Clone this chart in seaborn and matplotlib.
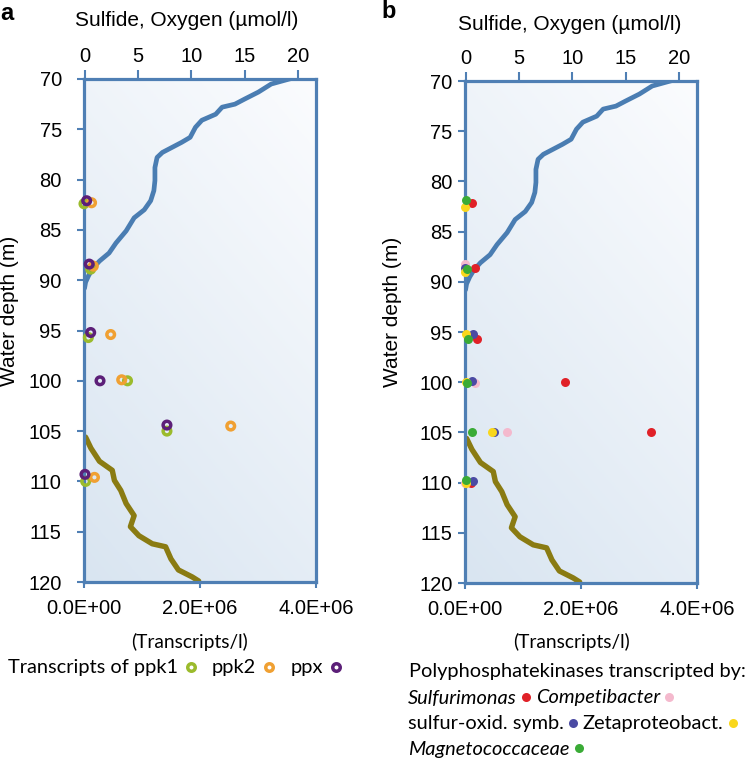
import numpy as np
import pandas as pd
import matplotlib
matplotlib.use("Agg")
import matplotlib.pyplot as plt
import seaborn as sns
from matplotlib.lines import Line2D
from matplotlib.colors import LinearSegmentedColormap

# ---------------- data ----------------
depth_ticks = [70, 75, 80, 85, 90, 95, 100, 105, 110, 115, 120]
conc_ticks = [0, 5, 10, 15, 20]
transcript_ticks = [0, 2e6, 4e6]
transcript_labels = ["0.0E+00", "2.0E+06", "4.0E+06"]

# oxygen profile (umol/l) vs depth (m)
o2_depth = [69.9, 70.0, 70.5, 71.3, 72.0, 72.5, 72.8, 73.5, 74.1, 74.8, 75.8, 76.3, 76.8,
            77.3, 77.8, 78.8, 80.1, 81.1, 82.1, 83.0, 83.8, 85.1, 86.3, 87.3, 88.1,
            88.8, 89.5, 90.2, 90.8]
o2 = [19.6, 19.2, 17.5, 16.3, 15.0, 14.1, 12.9, 12.3, 11.0, 10.4, 9.9, 9.1, 8.2,
      7.3, 6.8, 6.6, 6.6, 6.5, 6.2, 5.6, 4.65, 3.9, 2.95, 2.3, 1.4,
      0.8, 0.4, 0.1, 0.0]

# sulfide profile (umol/l) vs depth (m)
h2s_depth = [105.6, 106.7, 108.0, 108.9, 109.9, 110.9, 112.2, 113.4, 114.5, 115.4,
             116.2, 116.5, 117.7, 118.8, 119.5, 119.9]
h2s = [0.1, 0.6, 1.4, 2.6, 2.8, 3.4, 3.9, 4.65, 4.3, 5.1,
       6.35, 7.6, 8.1, 8.8, 10.1, 10.7]

# panel a: transcripts/l
ppk1_depth = [82.4, 88.9, 95.7, 100.0, 105.0, 110.0]
ppk1 = [0.0, 1.15e5, 7.5e4, 7.5e5, 1.43e6, 2.9e4]
ppk2_depth = [82.3, 88.6, 95.4, 99.9, 104.5, 109.6]
ppk2 = [1.3e5, 1.6e5, 4.6e5, 6.5e5, 2.53e6, 1.8e5]
ppx_depth = [82.1, 88.4, 95.2, 100.0, 104.4, 109.3]
ppx = [4.6e4, 9.0e4, 1.15e5, 2.76e5, 1.43e6, 1.7e4]

# panel b: polyphosphate kinase transcripts by taxon
sulfurimonas_depth = [82.2, 88.6, 95.7, 100.0, 105.0, 110.05]
sulfurimonas = [1.2e5, 1.7e5, 2.0e5, 1.72e6, 3.2e6, 1.0e5]
competibacter_depth = [88.2, 100.1, 105.0, 110.05]
competibacter = [0.0, 1.7e5, 7.2e5, 0.0]
symb_depth = [88.6, 95.2, 99.85, 105.0, 109.8]
symb = [0.0, 1.3e5, 1.27e5, 5.0e5, 1.3e5]
zeta_depth = [82.5, 89.0, 95.2, 100.0, 105.0, 110.0]
zeta = [0.0, 0.0, 1.0e4, 1.0e4, 4.6e5, 2.0e4]
magneto_depth = [81.9, 88.7, 95.7, 100.1, 104.95, 109.7]
magneto = [2.0e4, 3.0e4, 4.5e4, 3.0e4, 1.27e5, 1.0e4]

# ---------------- style ----------------
W, H = 747, 760
spc = "#4f7fb4"
o2_col = "#4a7db2"
h2s_col = "#8a7b12"
col_ppk1, col_ppk2, col_ppx = "#9bbb2c", "#f0a032", "#5c1f78"
col_sulf, col_comp, col_symb, col_zeta, col_mag = "#e02128", "#f4b9cd", "#4b4ba3", "#f9d71c", "#3aab36"
TICKF = "Liberation Sans"
LABF = "Lato"
LEGSIZE = 14.4

fig = plt.figure(figsize=(W / 100, H / 100), dpi=100)
fig.patch.set_facecolor("white")

xs = np.linspace(0, 1, 300)
X, Y = np.meshgrid(xs, xs)
grad = 0.35 * (1 - X) + 0.65 * (1 - Y)
cmap = LinearSegmentedColormap.from_list("bg", ["#fbfcfe", "#d9e5f1"])


def fx(px):
    return px / W


def fy(py):
    return 1 - py / H


def make_panel(left_px, top_px, bottom_px, ypad):
    rect = [fx(left_px), fy(bottom_px), 232 / W, (bottom_px - top_px) / H]
    bg = fig.add_axes(rect, zorder=0)
    bg.imshow(grad, cmap=cmap, extent=[0, 1, 0, 1], aspect="auto", origin="lower", vmin=0, vmax=1)
    bg.axis("off")

    ax = fig.add_axes(rect, zorder=1)
    ax.set_facecolor("none")
    sns.lineplot(x=o2, y=o2_depth, orient="y", sort=False, estimator=None, ax=ax,
                 color=o2_col, lw=3.4, solid_capstyle="round")
    sns.lineplot(x=h2s, y=h2s_depth, orient="y", sort=False, estimator=None, ax=ax,
                 color=h2s_col, lw=3.9, solid_capstyle="round")
    ax.set_xlim(-0.05, 21.7)
    ax.set_ylim(120, 70)
    ax.set_xticks(conc_ticks)
    ax.set_yticks(depth_ticks)
    ax.set_xlabel("")
    ax.set_ylabel("")
    for s in ax.spines.values():
        s.set_color(spc)
        s.set_linewidth(2.3)

    ax2 = ax.twiny()
    ax2.set_facecolor("none")
    ax2.xaxis.set_ticks_position("bottom")
    ax2.xaxis.set_label_position("bottom")
    ax2.set_xlim(0, 4e6)
    ax2.set_xticks(transcript_ticks)
    ax2.set_xticklabels(transcript_labels)
    ax2.tick_params(axis="x", direction="out", length=4, width=1.5, color=spc, pad=8,
                    labelsize=14.5)
    for lab in ax2.get_xticklabels():
        lab.set_fontfamily(TICKF)
    for s in ax2.spines.values():
        s.set_visible(False)

    # concentration axis on top (after twiny, which resets the parent's tick side)
    ax.xaxis.set_ticks_position("top")
    ax.xaxis.set_label_position("top")
    ax.tick_params(axis="x", which="both", top=True, bottom=False, labeltop=True,
                   labelbottom=False, direction="out", length=6.5, width=1.5, color=spc,
                   pad=3, labelsize=14.5)
    ax.tick_params(axis="y", direction="out", length=5, width=1.5, color=spc, pad=ypad,
                   labelsize=14.5)
    for lab in ax.get_xticklabels() + ax.get_yticklabels():
        lab.set_fontfamily(TICKF)
    return ax, ax2


# ---------------- panel a ----------------
axa, axa2 = make_panel(84, 79, 582, 11)
ring_kw = dict(s=30, facecolor="none", linewidth=2.5, clip_on=False, zorder=5, legend=False)
sns.scatterplot(x=ppk1, y=ppk1_depth, ax=axa2, edgecolor=col_ppk1, **ring_kw)
sns.scatterplot(x=ppk2, y=ppk2_depth, ax=axa2, edgecolor=col_ppk2, **ring_kw)
sns.scatterplot(x=ppx, y=ppx_depth, ax=axa2, edgecolor=col_ppx, **ring_kw)
axa2.set_xlim(0, 4e6)
axa2.set_ylim(120, 70)

# ---------------- panel b ----------------
axb, axb2 = make_panel(465, 81, 583, 4)
dot_kw = dict(s=42, linewidth=0, clip_on=False, zorder=5, legend=False)
sns.scatterplot(x=sulfurimonas, y=sulfurimonas_depth, ax=axb2, color=col_sulf, **dot_kw)
sns.scatterplot(x=competibacter, y=competibacter_depth, ax=axb2, color=col_comp, **dot_kw)
sns.scatterplot(x=symb, y=symb_depth, ax=axb2, color=col_symb, **dot_kw)
sns.scatterplot(x=zeta, y=zeta_depth, ax=axb2, color=col_zeta, **dot_kw)
sns.scatterplot(x=magneto, y=magneto_depth, ax=axb2, color=col_mag, **dot_kw)
axb2.set_xlim(0, 4e6)
axb2.set_ylim(120, 70)

# ---------------- texts ----------------
fig.text(fx(0), fy(13), "a", fontsize=17, fontweight="bold", family=TICKF, ha="left", va="center")
fig.text(fx(381), fy(11), "b", fontsize=17, fontweight="bold", family=TICKF, ha="left", va="center")
fig.text(fx(187), fy(20), "Sulfide, Oxygen (µmol/l)", fontsize=15, family=TICKF, ha="center", va="center")
fig.text(fx(570), fy(25), "Sulfide, Oxygen (µmol/l)", fontsize=15, family=TICKF, ha="center", va="center")
fig.text(fx(10), fy(311), "Water depth (m)", fontsize=15, family=TICKF, rotation=90, ha="center", va="center")
fig.text(fx(392), fy(312), "Water depth (m)", fontsize=15, family=TICKF, rotation=90, ha="center", va="center")
fig.text(fx(189), fy(642), "(Transcripts/l)", fontsize=13.8, family=LABF, ha="center", va="center")
fig.text(fx(571), fy(642), "(Transcripts/l)", fontsize=13.8, family=LABF, ha="center", va="center")

# legend a
ring_handles = [Line2D([], [], ls="none", marker="o", ms=5.4, mfc="none", mec=c, mew=2.5)
                for c in (col_ppk1, col_ppk2, col_ppx)]
lega = fig.legend(ring_handles, ["Transcripts of ppk1", "ppk2", "ppx"], ncol=3, markerfirst=False,
                  loc="center left", bbox_to_anchor=(fx(8), fy(668)), frameon=False,
                  handletextpad=0.3, columnspacing=0.7, handlelength=0.7, borderpad=0,
                  borderaxespad=0, prop={"family": LABF, "size": LEGSIZE})

# legend b
fig.text(fx(409), fy(672), "Polyphosphatekinases transcripted by:", fontsize=LEGSIZE, family=LABF,
         ha="left", va="center")


def dot(c):
    return Line2D([], [], ls="none", marker="o", ms=6.5, mfc=c, mec=c, mew=0)


rows = [
    ([col_sulf, col_comp], ["Sulfurimonas", "Competibacter"], [True, True], 698),
    ([col_symb, col_zeta], ["sulfur-oxid. symb.", "Zetaproteobact."], [False, False], 724),
    ([col_mag], ["Magnetococcaceae"], [True], 749),
]
for cols, labs, ital, ypx in rows:
    lg = fig.legend([dot(c) for c in cols], labs, ncol=len(labs), markerfirst=False,
                    loc="center left", bbox_to_anchor=(fx(408), fy(ypx)), frameon=False,
                    handletextpad=0.15, columnspacing=0.2, handlelength=0.6, borderpad=0,
                    borderaxespad=0, prop={"family": LABF, "size": LEGSIZE})
    for t, it in zip(lg.get_texts(), ital):
        if it:
            t.set_fontstyle("italic")

fig.savefig("out.png", dpi=100)
